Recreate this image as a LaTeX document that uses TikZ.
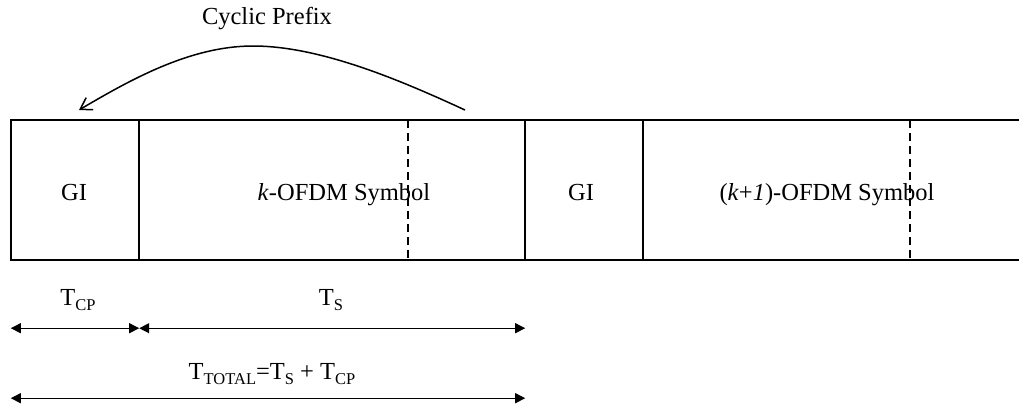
\documentclass[tikz,border=0pt]{standalone}
\usepackage{fontspec}
\setmainfont{Liberation Serif}
\usetikzlibrary{arrows.meta,calc}
\newcommand{\lowsub}[1]{\raisebox{-5.5pt}{\fontsize{16.5}{18}\selectfont #1}}
\begin{document}
\begin{tikzpicture}[x=1pt,y=-1pt,
  cell/.style={inner sep=0pt, minimum height=140pt},
  lbl/.style={inner sep=0pt, anchor=base, font=\fontsize{24.5}{28}\selectfont},
  boxline/.style={line width=2pt, line cap=rect},
  dline/.style={line width=1.5pt, dash pattern=on 8pt off 5pt},
  dim/.style={line width=1.2pt, {Triangle[length=10pt,width=10pt]}-{Triangle[length=10pt,width=10pt]}},
  cparrow/.style={line width=1.5pt, -{Straight Barb[length=11pt,width=14pt,line width=1.5pt]}}]
\useasboundingbox (0,0) rectangle (1019,405);
% cells (frames)
\node[cell, minimum width=128pt] (gi1) at (75,190) {};
\node[cell, minimum width=386pt] (s1) at (332,190) {};
\node[cell, minimum width=118pt] (gi2) at (584,190) {};
\node[cell, minimum width=380pt] (s2) at (833,190) {};
% cell texts
\node[lbl] (gi1t) at (74,200) {GI};
\node[lbl] (s1t) at (344,200) {\textit{k}-OFDM Symbol};
\node[lbl] (gi2t) at (581,200) {GI};
\node[lbl] (s2t) at (827,200) {(\textit{k}+\textit{1})-OFDM Symbol};
% frame lines
\draw[boxline] (gi1.north west) -- (s2.north east);
\draw[boxline] (gi1.south west) -- (s2.south east);
\draw[boxline] (gi1.north west) -- (gi1.south west);
\draw[boxline] (gi1.north east) -- (gi1.south east);
\draw[boxline] (s1.north east) -- (s1.south east);
\draw[boxline] (gi2.north east) -- (gi2.south east);
% dashed markers
\draw[dline] ($(s1.north east)+(-117,0)$) -- ($(s1.south east)+(-117,0)$);
\draw[dline] ($(s2.north west)+(267,0)$) -- ($(s2.south west)+(267,0)$);
% cyclic prefix arrow
\coordinate (cpstart) at (465,110);
\coordinate (cppeak) at (253,46);
\coordinate (cpend) at (79,110);
\draw[cparrow] (cpstart) .. controls (400,80) and (320,46) .. (cppeak)
  .. controls (190,46) and (130,80) .. (cpend);
\node[lbl] (cp) at (267,24) {Cyclic Prefix};
% dimension arrows
\coordinate (a1) at ($(gi1.south west)+(0,68)$);
\coordinate (a2) at ($(gi1.south east)+(0,68)$);
\coordinate (a3) at ($(s1.south east)+(0,68)$);
\coordinate (b1) at ($(gi1.south west)+(0,138)$);
\coordinate (b2) at ($(s1.south east)+(0,138)$);
\draw[dim] (a1) -- (a2);
\draw[dim] (a2) -- (a3);
\draw[dim] (b1) -- (b2);
\node[lbl] (tcp) at (78,305) {T\lowsub{CP}};
\node[lbl] (ts) at (331,305) {T\lowsub{S}};
\node[lbl] (ttot) at (272,379) {T\lowsub{TOTAL}=T\lowsub{S} + T\lowsub{CP}};
\end{tikzpicture}
\end{document}
